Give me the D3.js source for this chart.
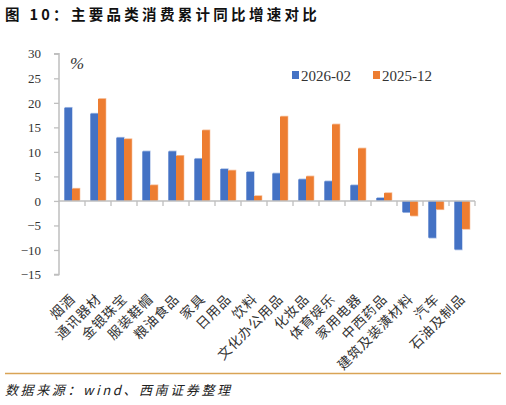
<!DOCTYPE html>
<html>
<head>
<meta charset="utf-8">
<script src="https://cdn.jsdelivr.net/npm/d3@7"></script>
<style>
  body { margin: 0; background: #fff; }
  svg { display: block; }
</style>
</head>
<body>
<div id="chart"></div>
<script>
// data
const categories = ['烟酒', '通讯器材', '金银珠宝', '服装鞋帽', '粮油食品', '家具', '日用品', '饮料',
  '文化办公用品', '化妆品', '体育娱乐', '家用电器', '中西药品', '建筑及装潢材料', '汽车', '石油及制品'];
const seriesNames = ['2026-02', '2025-12'];
const v202602 = [19.0, 17.8, 12.9, 10.1, 10.1, 8.6, 6.5, 5.9, 5.6, 4.4, 4.0, 3.2, 0.6, -2.3, -7.5, -9.9];
const v202512 = [2.5, 20.8, 12.6, 3.2, 9.2, 14.4, 6.2, 1.0, 17.2, 5.0, 15.6, 10.7, 1.6, -3.0, -1.7, -5.7];
const yTicks = [30, 25, 20, 15, 10, 5, 0, -5, -10, -15];
const colors = ['#4472C4', '#ED7D31'];
const shadeColors = ['#A9BFE6', '#F6BE98'];

const W = 506, H = 405;
const svg = d3.select('#chart').append('svg').attr('width', W).attr('height', H);

const serif = '"Liberation Serif", "Noto Sans CJK SC", serif';
const cjk = '"Noto Sans CJK SC", sans-serif';

// title
svg.append('text').attr('x', 5).attr('y', 20)
  .attr('font-family', cjk).attr('font-weight', 'bold').attr('font-size', 14.5)
  .attr('letter-spacing', 3.3).attr('fill', '#111')
  .text('图 10：主要品类消费累计同比增速对比');

const topGrad = svg.append('defs').append('linearGradient').attr('id', 'tg');
topGrad.append('stop').attr('offset', '0%').attr('stop-color', '#DDB77C');
topGrad.append('stop').attr('offset', '100%').attr('stop-color', '#E9CFA5');
svg.append('line').attr('x1', 5).attr('x2', 501).attr('y1', 32).attr('y2', 32)
  .attr('stroke', 'url(#tg)').attr('stroke-width', 1.5);

svg.append('line').attr('x1', 5).attr('x2', 501).attr('y1', 373.5).attr('y2', 373.5)
  .attr('stroke', '#D9A456').attr('stroke-width', 1.3);

svg.append('text').attr('x', 5).attr('y', 395)
  .attr('font-family', cjk).attr('font-style', 'italic').attr('font-size', 13)
  .attr('letter-spacing', 2.6).attr('fill', '#222')
  .text('数据来源：wind、西南证券整理');

// scales
const x = d3.scaleBand().domain(categories).range([59, 475]).padding(0);
const xs = d3.scaleBand().domain(seriesNames).range([0, x.bandwidth()]).paddingInner(0).paddingOuter(0.69);
const y = d3.scaleLinear().domain([-15, 30]).range([274.5, 53.8]);

const rows = categories.map((c, i) => ({ cat: c, vals: [v202602[i], v202512[i]] }));

const g = svg.append('g');
const grp = g.selectAll('g.cat').data(rows).enter().append('g')
  .attr('transform', d => `translate(${x(d.cat)},0)`);

seriesNames.forEach((s, si) => {
  // faint light edge like the reference
  grp.append('rect')
    .attr('x', xs(s) + 0.6)
    .attr('y', d => Math.min(y(d.vals[si]), y(0)) - (d.vals[si] >= 0 ? 0.8 : -0.8))
    .attr('width', xs.bandwidth())
    .attr('height', d => Math.abs(y(d.vals[si]) - y(0)))
    .attr('fill', shadeColors[si]);
  grp.append('rect')
    .attr('x', xs(s))
    .attr('y', d => Math.min(y(d.vals[si]), y(0)))
    .attr('width', xs.bandwidth())
    .attr('height', d => Math.abs(y(d.vals[si]) - y(0)))
    .attr('fill', colors[si]);
});

// y axis
const yAxis = g.append('g').attr('transform', 'translate(59,0)')
  .call(d3.axisLeft(y).tickValues(yTicks).tickSize(5).tickPadding(13)
    .tickFormat(d => d < 0 ? '\u2212' + Math.abs(d) : d));
yAxis.select('.domain').attr('stroke', '#BFBFBF').attr('stroke-width', 1.5).attr('d', `M-5,${y(30)}H0V${y(-15)}H-5`);
yAxis.selectAll('.tick line').attr('stroke', '#BFBFBF').attr('stroke-width', 1.3);
yAxis.selectAll('.tick text').attr('font-family', serif).attr('font-size', 13).attr('fill', '#333');

// zero line with ticks between categories
const zeroAxis = g.append('g').attr('transform', `translate(0,${y(0)})`);
zeroAxis.append('line').attr('x1', 59).attr('x2', 475).attr('y1', 0).attr('y2', 0)
  .attr('stroke', '#BFBFBF').attr('stroke-width', 1.5);
zeroAxis.selectAll('line.tk').data(categories).enter().append('line')
  .attr('x1', d => x(d) + x.bandwidth()).attr('x2', d => x(d) + x.bandwidth())
  .attr('y1', 0).attr('y2', 5)
  .attr('stroke', '#BFBFBF').attr('stroke-width', 1.3);

// category labels below plot area
g.selectAll('text.cat').data(categories).enter().append('text')
  .attr('transform', d => `translate(${x(d) + x.bandwidth() / 2 + 4},${300}) rotate(-45)`)
  .attr('text-anchor', 'end')
  .attr('font-family', cjk).attr('font-size', 13.5).attr('letter-spacing', 0.8).attr('fill', '#333')
  .text(d => d);

// % unit
svg.append('text').attr('x', 70).attr('y', 69)
  .attr('font-family', serif).attr('font-style', 'italic').attr('font-size', 17).attr('fill', '#333')
  .text('%');

// legend
const lg = svg.append('g');
const legendX = [292, 373];
seriesNames.forEach((s, i) => {
  lg.append('rect').attr('x', legendX[i]).attr('y', 71).attr('width', 7).attr('height', 8).attr('fill', colors[i]);
  lg.append('text').attr('x', legendX[i] + 9).attr('y', 81)
    .attr('font-family', serif).attr('font-size', 15).attr('fill', '#333')
    .text(s);
});
</script>
</body>
</html>
